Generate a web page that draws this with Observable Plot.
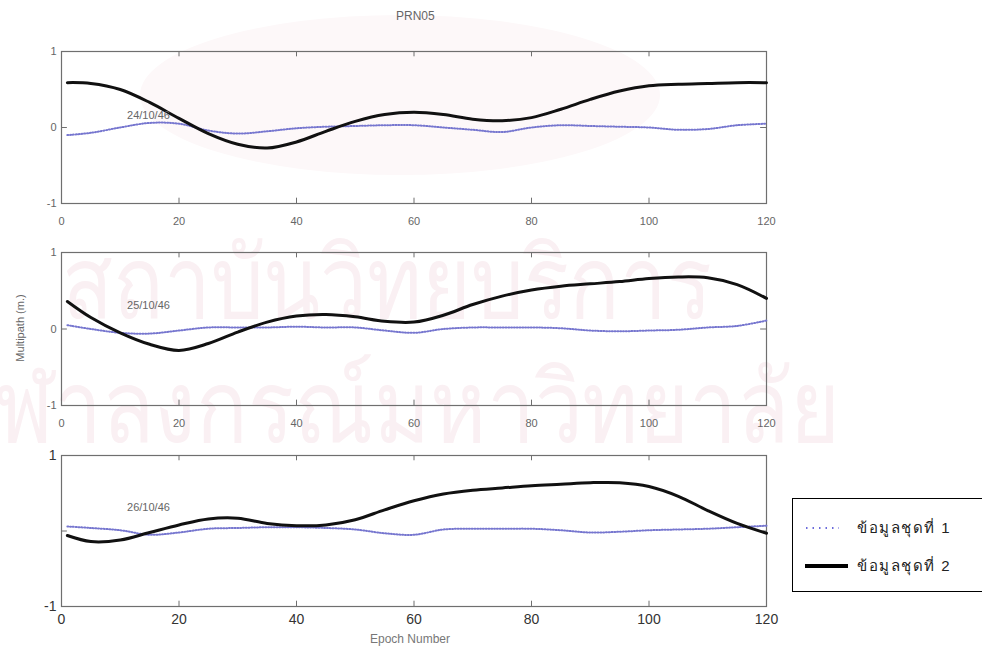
<!DOCTYPE html>
<html>
<head>
<meta charset="utf-8">
<script src="https://cdn.jsdelivr.net/npm/d3@7"></script>
<script src="https://cdn.jsdelivr.net/npm/@observablehq/plot@0.6"></script>
<style>
  body { margin: 0; background: #fff; }
  #wrap { position: relative; width: 982px; height: 650px; overflow: hidden; background: #fff; font-family: "Liberation Sans", Arial, sans-serif; }
  .abs { position: absolute; }
  .panel svg { background: transparent !important; }
</style>
</head>
<body>
<div id="wrap"></div>
<script>
// ---- data ----
const epochs = [1,5,10,15,20,25,30,35,40,45,50,55,60,65,70,75,80,85,90,95,100,105,110,115,120];
const day1Set1 = [-0.10,-0.07,0.00,0.06,0.05,-0.04,-0.08,-0.05,-0.01,0.01,0.02,0.03,0.03,0.00,-0.03,-0.06,0.00,0.03,0.02,0.01,0.00,-0.03,-0.02,0.03,0.05];
const day1Set2 = [0.59,0.58,0.50,0.33,0.12,-0.08,-0.22,-0.27,-0.19,-0.05,0.08,0.17,0.20,0.17,0.11,0.09,0.13,0.24,0.37,0.48,0.55,0.57,0.58,0.59,0.59];
const day2Set1 = [0.05,0.00,-0.05,-0.06,-0.02,0.02,0.02,0.02,0.03,0.02,0.02,-0.02,-0.05,0.00,0.02,0.02,0.02,0.01,-0.02,-0.03,-0.02,-0.01,0.02,0.04,0.11];
const day2Set2 = [0.36,0.15,-0.05,-0.20,-0.28,-0.19,-0.04,0.09,0.17,0.19,0.16,0.10,0.09,0.18,0.32,0.43,0.51,0.56,0.59,0.62,0.66,0.68,0.67,0.58,0.40];
const day3Set1 = [0.06,0.04,0.01,-0.05,-0.02,0.03,0.04,0.05,0.05,0.04,0.02,-0.03,-0.05,0.02,0.03,0.03,0.03,0.01,-0.02,-0.01,0.01,0.02,0.03,0.05,0.07];
const day3Set2 = [-0.06,-0.14,-0.12,-0.02,0.08,0.16,0.17,0.10,0.07,0.08,0.15,0.28,0.40,0.49,0.54,0.57,0.60,0.62,0.64,0.64,0.59,0.46,0.27,0.10,-0.03];
const dateLabels = ["24/10/46", "25/10/46", "26/10/46"];
const xTicks = [0,20,40,60,80,100,120];
const innerTicks = [20,40,60,80,100];
const seriesNames = ["ข้อมูลชุดที่ 1", "ข้อมูลชุดที่ 2"];
const titleText = "PRN05";
const yLabel = "Multipath (m.)";
const xLabel = "Epoch Number";
const watermark1 = "สถาบันวิทยบริการ";
const watermark2 = "จุฬาลงกรณ์มหาวิทยาลัย";

const wrap = document.getElementById("wrap");

// ---- faint watermark (background) ----
const bg = d3.select(wrap).append("svg").attr("class","abs").style("left","0px").style("top","0px")
  .attr("width", 982).attr("height", 650);
bg.append("ellipse").attr("cx", 400).attr("cy", 95).attr("rx", 260).attr("ry", 80).attr("fill", "#fdf8f9");
bg.append("text").text(watermark1).attr("x", 62).attr("y", 318).attr("textLength", 650).attr("lengthAdjust","spacingAndGlyphs")
  .attr("font-size", 100).attr("fill", "#faf0f3").attr("font-family", "sans-serif");
bg.append("text").text(watermark2).attr("x", -55).attr("y", 442).attr("textLength", 895).attr("lengthAdjust","spacingAndGlyphs")
  .attr("font-size", 100).attr("fill", "#faf0f3").attr("font-family", "sans-serif");

const sets = [[day1Set1, day1Set2], [day2Set1, day2Set2], [day3Set1, day3Set2]];

function panel(i, cfg) {
  const [s1, s2] = sets[i];
  const rows1 = epochs.map((e, k) => ({epoch: e, v: s1[k]}));
  const rows2 = epochs.map((e, k) => ({epoch: e, v: s2[k]}));
  const tl = cfg.tickLen;
  return Plot.plot({
    width: 982,
    height: cfg.height,
    marginLeft: 61,
    marginRight: 216,
    marginTop: cfg.mt,
    marginBottom: cfg.mb,
    style: {background: "transparent", fontFamily: "Liberation Sans, Arial, sans-serif"},
    x: {domain: [0, 120]},
    y: {domain: [-1, 1]},
    marks: [
      Plot.frame({stroke: "#6f6f6f", strokeWidth: 1.2}),
      Plot.ruleX(innerTicks, {x: d => d, y1: -1, y2: -1 + tl, stroke: "#6f6f6f"}),
      Plot.ruleX(innerTicks, {x: d => d, y1: 1, y2: 1 - tl, stroke: "#6f6f6f"}),
      Plot.ruleY([0], {y: d => d, x1: 0, x2: 1, stroke: "#6f6f6f"}),
      Plot.ruleY([0], {y: d => d, x1: 119, x2: 120, stroke: "#6f6f6f"}),
      Plot.line(rows1, {x: "epoch", y: "v", stroke: "#7676cf", strokeWidth: 2, strokeDasharray: "1,1.8", curve: "catmull-rom"}),
      Plot.line(rows2, {x: "epoch", y: "v", stroke: "#111", strokeWidth: 3, curve: "catmull-rom"}),
      Plot.text([dateLabels[i]], {x: 14.8, y: cfg.dateY, text: d => d, fill: "#666", fontSize: 11}),
      Plot.axisX({ticks: xTicks, tickSize: 0, tickPadding: cfg.xPad, fontSize: cfg.fs, fill: cfg.col, fontWeight: cfg.fw, label: null, tickFormat: d => String(d)}),
      Plot.axisY({ticks: cfg.yTicks, tickSize: 0, tickPadding: 5, fontSize: cfg.fs, fill: cfg.col, fontWeight: cfg.fw, label: null, tickFormat: d => String(d)})
    ]
  });
}

const cfgs = [
  {top: 0,   height: 230, mt: 51, mb: 27, tickLen: 0.07, dateY: 0.16, xPad: 14, fs: 11, col: "#666", fw: "normal", yTicks: [-1,0,1]},
  {top: 200, height: 230, mt: 52, mb: 25, tickLen: 0.07, dateY: 0.31, xPad: 14, fs: 11, col: "#666", fw: "normal", yTicks: [-1,0,1]},
  {top: 400, height: 250, mt: 55, mb: 44, tickLen: 0.07, dateY: 0.31, xPad: 8,  fs: 14, col: "#333", fw: "normal", yTicks: [-1,1]}
];
cfgs.forEach((c, i) => {
  const div = document.createElement("div");
  div.className = "abs panel";
  div.style.left = "0px";
  div.style.top = c.top + "px";
  div.appendChild(panel(i, c));
  wrap.appendChild(div);
});

// ---- title and axis labels ----
function addText(txt, left, top, css) {
  const d = document.createElement("div");
  d.className = "abs";
  d.textContent = txt;
  d.style.left = left + "px";
  d.style.top = top + "px";
  Object.assign(d.style, css || {});
  wrap.appendChild(d);
  return d;
}
addText(titleText, 396, 9, {fontSize: "12px", color: "#666"});
addText(xLabel, 370, 632, {fontSize: "12px", color: "#777"});
addText(yLabel, 20, 328, {fontSize: "11px", color: "#666", transform: "translate(-50%,-50%) rotate(-90deg)", whiteSpace: "nowrap"});

// ---- legend ----
const leg = document.createElement("div");
leg.className = "abs";
Object.assign(leg.style, {left: "792px", top: "498px", width: "192px", height: "94px", border: "1.5px solid #000", background: "#fff", boxSizing: "border-box"});
wrap.appendChild(leg);
const ls = d3.select(leg).append("svg").attr("width", 190).attr("height", 92).style("position","absolute").style("left","0px").style("top","0px");
ls.append("line").attr("x1", 13).attr("x2", 46).attr("y1", 29).attr("y2", 29).attr("stroke", "#3b3bd0").attr("stroke-width", 1.6).attr("stroke-dasharray", "1.5,5");
ls.append("line").attr("x1", 12).attr("x2", 55).attr("y1", 67).attr("y2", 67).attr("stroke", "#000").attr("stroke-width", 4);
seriesNames.forEach((n, k) => {
  ls.append("text").text(n).attr("x", 64).attr("y", k === 0 ? 34 : 72).attr("font-size", 15).attr("fill", "#222")
    .attr("font-family", "sans-serif").attr("letter-spacing", "1.5");
});
</script>
</body>
</html>
